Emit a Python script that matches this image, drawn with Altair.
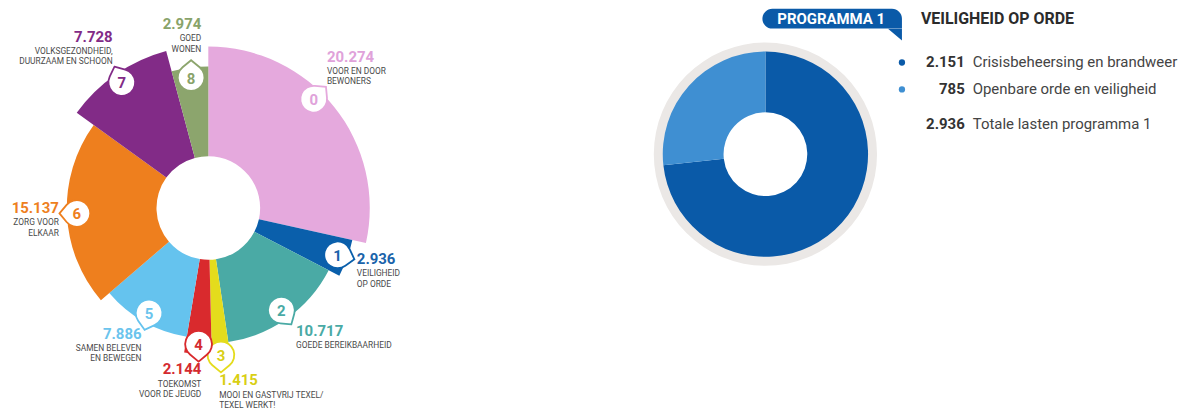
import altair as alt
import pandas as pd
import numpy as np

# ---------------- data: all programmes (left) ----------------
prog_nr = ["0", "1", "2", "3", "4", "5", "6", "7", "8"]
prog_value = [20274, 2936, 10717, 1415, 2144, 7886, 15137, 7728, 2974]
prog_name = [
    ["VOOR EN DOOR", "BEWONERS"],
    ["VEILIGHEID", "OP ORDE"],
    ["GOEDE BEREIKBAARHEID"],
    ["MOOI EN GASTVRIJ TEXEL/", "TEXEL WERKT!"],
    ["TOEKOMST", "VOOR DE JEUGD"],
    ["SAMEN BELEVEN", "EN BEWEGEN"],
    ["ZORG VOOR", "ELKAAR"],
    ["VOLKSGEZONDHEID,", "DUURZAAM EN SCHOON"],
    ["GOED", "WONEN"],
]
prog_color = ["#e5a9dd", "#0a5fab", "#4aaaa5", "#e4dc1c", "#d92a2d",
              "#65c3ee", "#ee7f1e", "#822b87", "#8ca56d"]
label_color = ["#e0a2da", "#1a63aa", "#49aaa5", "#d9cf14", "#d42a2f",
               "#6bc4ed", "#ee7f1e", "#822b87", "#89a36a"]

# ---------------- data: programma 1 (right) ----------------
sub_name = ["Crisisbeheersing en brandweer", "Openbare orde en veiligheid"]
sub_value = [2151, 785]
sub_color = ["#0a5aa8", "#3f8fd2"]
total_name = "Totale lasten programma 1"
badge_text = "PROGRAMMA 1"
title_text = "VEILIGHEID OP ORDE"

# ---------------- layout / styling ----------------
slice_radius = [162, 148, 136, 158, 147, 131, 142, 163, 142]   # decorative outer radius
badge_frac = [0.43, 0.5, 0.5, 0.5, 0.5, 0.5, 0.5, 0.5, 0.5]
tail_angle = [45, 105, 145, 180, 180, 195, 270, 335, 0]
label_anchor = [(119, 152, "left"), (149, -51, "left"), (88, -123, "left"),
                (11, -173, "left"), (-7, -162, "right"), (-67, -126, "right"),
                (-150, 0, "right"), (-96, 172, "right"), (-7, 185, "right")]

FONT = "Roboto"
LW, LH = 402, 398
RW, RH = 716, 290


def nl(v):
    return f"{v:,}".replace(",", ".")


total = sum(prog_value)
starts = np.cumsum([0] + prog_value[:-1])
ang = [(s + f * v) / total * 2 * np.pi for s, v, f in zip(starts, prog_value, badge_frac)]

left = pd.DataFrame({
    "nr": prog_nr,
    "idx": list(range(len(prog_nr))),
    "value": prog_value,
    "label": [nl(v) for v in prog_value],
    "name": prog_name,
    "color": prog_color,
    "lcolor": label_color,
    "r": slice_radius,
    "bx": [(r - 10) * np.sin(a) for r, a in zip(slice_radius, ang)],
    "by": [(r - 10) * np.cos(a) for r, a in zip(slice_radius, ang)],
    "tail": tail_angle,
    "lx": [a[0] for a in label_anchor],
    "ly": [a[1] for a in label_anchor],
    "align": [a[2] for a in label_anchor],
})

lx_scale = alt.Scale(domain=[-LW / 2, LW / 2], nice=False, zero=False)
ly_scale = alt.Scale(domain=[-LH / 2, LH / 2], nice=False, zero=False)

arcs = alt.Chart(left).transform_stack(
    stack="value", as_=["t0", "t1"], groupby=[], sort=[alt.SortField("idx", order="ascending")]
).mark_arc(innerRadius=52, stroke=None).encode(
    theta=alt.Theta("t0:Q", stack=False, scale=alt.Scale(domain=[0, total], range=[0, 2 * np.pi], zero=True, nice=False)),
    theta2="t1:Q",
    radius=alt.Radius("r:Q", scale=alt.Scale(type="linear", domain=[0, 200], range=[0, 200], zero=True, nice=False)),
    color=alt.Color("color:N", scale=None),
)

teardrop = "M0,-1.3L0.639,-0.769A1,1,0,1,1,-0.639,-0.769Z"
badges = alt.Chart(left).mark_point(shape=teardrop, filled=True, fill="white",
                                    size=720, strokeWidth=1.8, opacity=1).encode(
    x=alt.X("bx:Q", scale=lx_scale, axis=None),
    y=alt.Y("by:Q", scale=ly_scale, axis=None),
    stroke=alt.Stroke("color:N", scale=None),
    angle=alt.Angle("tail:Q", scale=None),
)
badge_nr = alt.Chart(left).mark_text(font=FONT, fontSize=15, fontWeight="bold",
                                     align="center", baseline="middle", dy=1).encode(
    x=alt.X("bx:Q", scale=lx_scale, axis=None),
    y=alt.Y("by:Q", scale=ly_scale, axis=None),
    text="nr:N",
    color=alt.Color("lcolor:N", scale=None),
)

label_layers = []
for al in ["left", "right"]:
    sub = alt.Chart(left).transform_filter(alt.datum.align == al)
    label_layers.append(sub.mark_text(font=FONT, fontSize=15, fontWeight="bold",
                                      align=al, baseline="middle").encode(
        x=alt.X("lx:Q", scale=lx_scale, axis=None),
        y=alt.Y("ly:Q", scale=ly_scale, axis=None),
        text="label:N",
        color=alt.Color("lcolor:N", scale=None),
    ))
    label_layers.append(sub.mark_text(font=FONT, fontSize=8.4, align=al, baseline="top",
                                      lineHeight=10.5, dy=10.5, color="#4a4a4a").encode(
        x=alt.X("lx:Q", scale=lx_scale, axis=None),
        y=alt.Y("ly:Q", scale=ly_scale, axis=None),
        text="name",
    ))

left_chart = alt.layer(arcs, badges, badge_nr, *label_layers).properties(width=LW, height=LH)

# ---------------- right panel ----------------
sub_df = pd.DataFrame({
    "idx": [0, 1],
    "name": sub_name,
    "value": sub_value,
    "color": sub_color,
})
rows = pd.DataFrame({
    "name": sub_name + [total_name],
    "label": [nl(v) for v in sub_value] + [nl(sum(sub_value))],
    "color": sub_color + [None],
    "row": [0, 1, 2],
})
row_y = [92, 65, 30]
rows["y"] = [row_y[i] for i in rows["row"]]
rows["dotx"] = 137
rows["vx"] = 200
rows["nx"] = 208

rx_scale = alt.Scale(domain=[-RW / 2, RW / 2], nice=False, zero=False)
ry_scale = alt.Scale(domain=[-RH / 2, RH / 2], nice=False, zero=False)
sub_total = sum(sub_value)

ring = alt.Chart(pd.DataFrame({"v": [sub_total]})).mark_arc(innerRadius=100, outerRadius=112,
                                                            color="#ebe8e6").encode(
    theta=alt.Theta("v:Q", stack=False, scale=alt.Scale(domain=[0, sub_total], zero=True, nice=False)))
donut = alt.Chart(sub_df).transform_stack(
    stack="value", as_=["t0", "t1"], groupby=[], sort=[alt.SortField("idx", order="ascending")]
).mark_arc(innerRadius=42, outerRadius=103, stroke=None).encode(
    theta=alt.Theta("t0:Q", stack=False, scale=alt.Scale(domain=[0, sub_total], zero=True, nice=False)),
    theta2="t1:Q",
    color=alt.Color("color:N", scale=None),
)

badge_box = pd.DataFrame({"x": [-3], "x2": [137], "y": [126], "y2": [146],
                          "tx": [130], "ty": [120], "cx": [66], "cy": [136],
                          "title_x": [156], "text": [badge_text], "title": [title_text]})
rect = alt.Chart(badge_box).mark_rect(color="#0a5aa8", cornerRadius=10,
                                      cornerRadiusBottomRight=0).encode(
    x=alt.X("x:Q", scale=rx_scale, axis=None), x2="x2:Q",
    y=alt.Y("y:Q", scale=ry_scale, axis=None), y2="y2:Q",
)
tail = alt.Chart(badge_box).mark_point(shape="M-1,-0.85L1,-0.85L1,0.85Z", filled=True,
                                       color="#0a5aa8", size=196, opacity=1).encode(
    x=alt.X("tx:Q", scale=rx_scale, axis=None),
    y=alt.Y("ty:Q", scale=ry_scale, axis=None),
)
badge_lbl = alt.Chart(badge_box).mark_text(font=FONT, fontSize=15, fontWeight="bold",
                                           color="white", align="center", baseline="middle").encode(
    x=alt.X("cx:Q", scale=rx_scale, axis=None),
    y=alt.Y("cy:Q", scale=ry_scale, axis=None),
    text="text:N",
)
title = alt.Chart(badge_box).mark_text(font=FONT, fontSize=16, fontWeight="bold",
                                       color="#2b2b2b", align="left", baseline="middle").encode(
    x=alt.X("title_x:Q", scale=rx_scale, axis=None),
    y=alt.Y("cy:Q", scale=ry_scale, axis=None),
    text="title:N",
)
dots = alt.Chart(rows).transform_filter(alt.datum.row < 2).mark_circle(size=40, opacity=1).encode(
    x=alt.X("dotx:Q", scale=rx_scale, axis=None),
    y=alt.Y("y:Q", scale=ry_scale, axis=None),
    color=alt.Color("color:N", scale=None),
)
vals = alt.Chart(rows).mark_text(font=FONT, fontSize=15, fontWeight="bold", color="#333333",
                                 align="right", baseline="middle").encode(
    x=alt.X("vx:Q", scale=rx_scale, axis=None),
    y=alt.Y("y:Q", scale=ry_scale, axis=None),
    text="label:N",
)
names = alt.Chart(rows).mark_text(font=FONT, fontSize=15, color="#444444",
                                  align="left", baseline="middle").encode(
    x=alt.X("nx:Q", scale=rx_scale, axis=None),
    y=alt.Y("y:Q", scale=ry_scale, axis=None),
    text="name:N",
)

right_chart = alt.layer(ring, donut, rect, tail, badge_lbl, title, dots, vals, names).properties(
    width=RW, height=RH)

chart = alt.hconcat(left_chart, right_chart, spacing=0, bounds="flush").resolve_scale(
    x="independent", y="independent", theta="independent", radius="independent"
).properties(padding=0).configure_view(stroke=None)

chart.save("out.html", embed_options={"renderer": "svg", "actions": False})
